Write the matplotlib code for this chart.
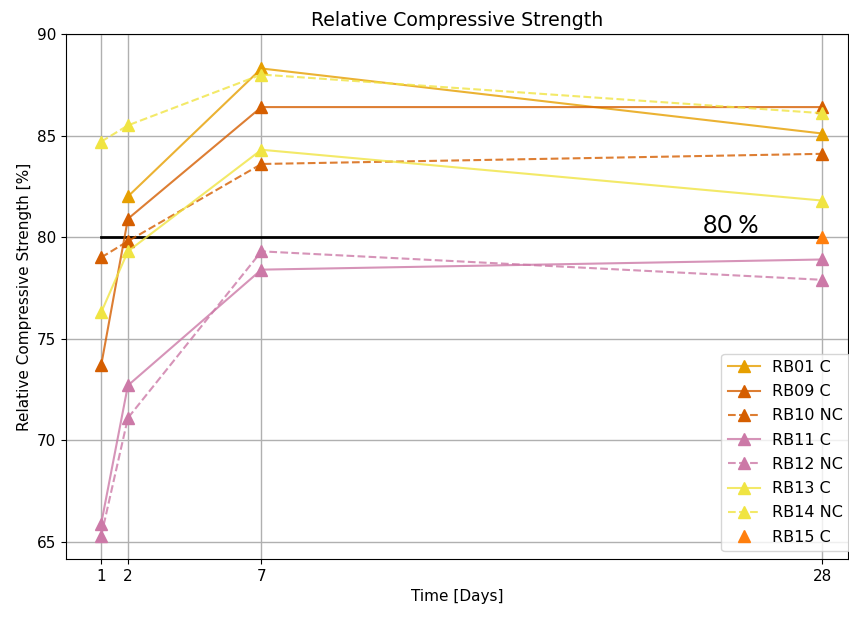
import matplotlib
matplotlib.use("Agg")
import matplotlib.pyplot as plt
from matplotlib.colors import to_rgba

days = [1, 2, 7, 28]

rb01 = [None, 82.0, 88.3, 85.1]
rb09 = [73.7, 80.9, 86.4, 86.4]
rb10 = [79.0, 79.8, 83.6, 84.1]
rb11 = [65.9, 72.7, 78.4, 78.9]
rb12 = [65.3, 71.1, 79.3, 77.9]
rb13 = [76.3, 79.3, 84.3, 81.8]
rb14 = [84.7, 85.5, 88.0, 86.1]
rb15 = [None, None, None, 80.0]

threshold = 80

series = [
    ("RB01 C", rb01, "#E69F00", "-"),
    ("RB09 C", rb09, "#D55E00", "-"),
    ("RB10 NC", rb10, "#D55E00", "--"),
    ("RB11 C", rb11, "#CC79A7", "-"),
    ("RB12 NC", rb12, "#CC79A7", "--"),
    ("RB13 C", rb13, "#F0E442", "-"),
    ("RB14 NC", rb14, "#F0E442", "--"),
]

fig = plt.figure(figsize=(8.49, 6.17), dpi=100)
ax = fig.add_axes([0.078, 0.094, 0.921, 0.851])

for label, vals, col, ls in series:
    x = [d for d, v in zip(days, vals) if v is not None]
    y = [v for v in vals if v is not None]
    ax.plot(x, y, linestyle=ls, color=to_rgba(col, 0.8), marker="^", markersize=9,
            markerfacecolor=col, markeredgecolor=col, linewidth=1.5, label=label)

x15 = [d for d, v in zip(days, rb15) if v is not None]
y15 = [v for v in rb15 if v is not None]
ax.plot(x15, y15, linestyle="none", marker="^", markersize=9, color="#ff7f0e", label="RB15 C")

ax.plot([days[0], days[-1]], [threshold, threshold], color="black", linewidth=2, zorder=1)
ax.text(23.55, 80.2, "80 %", fontsize=18, family="Lato", va="baseline")

ax.set_xticks(days)
ax.set_xlim(-0.31, 28.97)
ax.set_ylim(64.16, 90)
ax.grid(True, color="#b0b0b0", linewidth=1)
ax.set_axisbelow(True)
ax.tick_params(labelsize=11)
ax.set_xlabel("Time [Days]", fontsize=11)
ax.set_ylabel("Relative Compressive Strength [%]", fontsize=11)
ax.set_title("Relative Compressive Strength", fontsize=13.6)
ax.legend(loc="lower right", bbox_to_anchor=(1.002, 0.015), borderaxespad=0,
          fontsize=11.5, labelspacing=0.58)

fig.savefig("out.png", dpi=100)
